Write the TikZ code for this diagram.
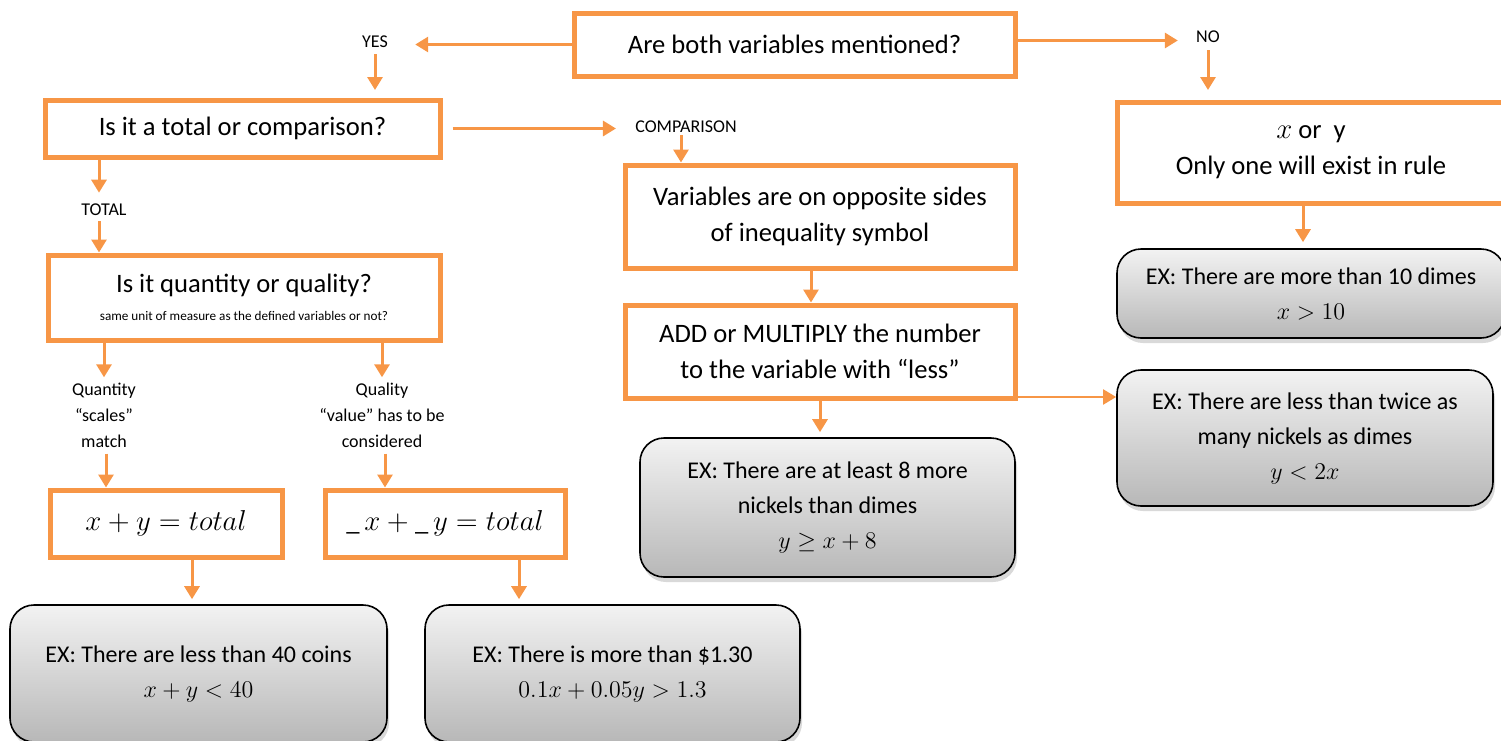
\documentclass[tikz,border=0pt]{standalone}
\usepackage{fontspec}
\setmainfont{Carlito}
\usetikzlibrary{arrows.meta,shadows}
\definecolor{orng}{HTML}{F79646}
\begin{document}
\begin{tikzpicture}[x=0.5pt,y=-0.5pt,
 obox/.style={draw=orng, line width=2.5pt, fill=white, align=center, inner sep=0pt, font=\fontsize{13.3}{18}\selectfont},
 gbox/.style={draw=black, line width=0.8pt, rounded corners=12pt, top color=black!5, bottom color=black!28, align=center, inner sep=0pt,
   drop shadow={shadow xshift=1pt,shadow yshift=-2.5pt,opacity=0.3}, font=\fontsize{12}{17.5}\selectfont},
 lbl/.style={inner sep=0pt, font=\fontsize{9}{13}\selectfont, align=center},
 arr/.style={draw=orng, line width=1.5pt, -{Triangle[length=6.5pt,width=7.5pt]}}]
\useasboundingbox (0,0) rectangle (1501,740);
\clip (0,0) rectangle (1501,740);

% question boxes
\node[obox, minimum width=220.5pt, minimum height=31.5pt] (top) at (794.5,44.5) {Are both variables mentioned?};
\node[obox, minimum width=197.5pt, minimum height=28.5pt] (q1) at (242.5,128.5) {Is it a total or comparison?};
\node[obox, minimum width=196pt, minimum height=42.5pt] (q2) at (244,297.5) {Is it quantity or quality?\\[-4pt]{\fontsize{6.6}{8}\selectfont same unit of measure as the defined variables or not?}};
\node[obox, minimum width=116pt, minimum height=33.5pt] (eq1) at (166,523.5) {$x+y=total$};
\node[obox, minimum width=120pt, minimum height=33.5pt] (eq2) at (445,523.5) {$\_\,x+\_\,y=total$};
\node[obox, minimum width=195pt, minimum height=51.5pt] (var) at (820,216.5) {Variables are on opposite sides\\of inequality symbol};
\node[obox, minimum width=195pt, minimum height=46.5pt] (add) at (820,351.5) {ADD or MULTIPLY the number\\to the variable with “less”};
\node[obox, minimum width=194pt, minimum height=50.5pt] (xory) at (1311,152.5) {$x$ or\ \ y\\Only one will exist in rule};

% labels
\node[lbl] (yes) at (375,42) {YES};
\node[lbl] (no) at (1208,37) {NO};
\node[lbl] (comp) at (686,127) {COMPARISON};
\node[lbl] (total) at (104,210) {TOTAL};
\node[lbl] (qty) at (104,415) {Quantity\\“scales”\\match};
\node[lbl] (qly) at (382,415) {Quality\\“value” has to be\\considered};

% example boxes
\node[gbox, minimum width=188.5pt, minimum height=68.5pt] (ex1) at (198.5,673.5) {EX: There are less than 40 coins\\$x+y<40$};
\node[gbox, minimum width=187.5pt, minimum height=68.5pt] (ex2) at (612.5,673.5) {EX: There is more than \$1.30\\$0.1x+0.05y>1.3$};
\node[gbox, minimum width=187.5pt, minimum height=69.5pt] (ex3) at (827.5,507.5) {EX: There are at least 8 more\\nickels than dimes\\$y\geq x+8$};
\node[gbox, minimum width=194pt, minimum height=44.5pt] (ex4) at (1311,293.5) {EX: There are more than 10 dimes\\$x>10$};
\node[gbox, minimum width=188pt, minimum height=68pt] (ex5) at (1305,438) {EX: There are less than twice as\\many nickels as dimes\\$y<2x$};

% connectors
\draw[arr, shorten >=13.5pt] (top.west) -- (top.west -| yes.east);
\draw[arr, shorten <=3pt, shorten >=3.75pt] (yes.south) -- (yes.south |- q1.north);
\draw[arr, shorten >=9pt] ([yshift=2pt]top.east) -- ([yshift=2pt]top.east -| no.west);
\draw[arr, shorten <=3.5pt, shorten >=4.75pt] (no.south) -- (no.south |- xory.north);
\draw[arr, shorten <=5pt, shorten >=9.5pt] (q1.east) -- (q1.east -| comp.west);
\draw[arr, shorten <=1pt] ([xshift=-2.5pt]comp.south) -- ([xshift=-2.5pt]comp.south |- var.north);
\draw[arr, shorten >=5.5pt] ([xshift=-2.5pt]total.north |- q1.south) -- ([xshift=-2.5pt]total.north);
\draw[arr, shorten <=2.5pt] ([xshift=-2.5pt]total.south) -- ([xshift=-2.5pt]total.south |- q2.north);
\draw[arr, shorten >=2.5pt] (qty.north |- q2.south) -- (qty.north);
\draw[arr, shorten >=2.5pt] (qly.north |- q2.south) -- (qly.north);
\draw[arr, shorten <=3pt] ([xshift=1pt]qty.south) -- ([xshift=1pt]qty.south |- eq1.north);
\draw[arr, shorten <=3pt] ([xshift=1.5pt]qly.south) -- ([xshift=1.5pt]qly.south |- eq2.north);
\draw[arr, shorten >=2.5pt] ([xshift=13pt]eq1.south) -- ([xshift=13pt]eq1.south |- ex1.north);
\draw[arr, shorten >=2.5pt] ([xshift=37pt]eq2.south) -- ([xshift=37pt]eq2.south |- ex2.north);
\draw[arr] ([xshift=-4.5pt]var.south) -- ([xshift=-4.5pt]var.south |- add.north);
\draw[arr, shorten >=2.5pt] (add.south) -- (add.south |- ex3.north);
\draw[arr, line width=1pt] ([yshift=1.75pt]add.south east) -- ([yshift=1.75pt]add.south east -| ex5.west);
\draw[arr, shorten >=3pt] ([xshift=-4pt]xory.south) -- ([xshift=-4pt]xory.south |- ex4.north);
\end{tikzpicture}
\end{document}
